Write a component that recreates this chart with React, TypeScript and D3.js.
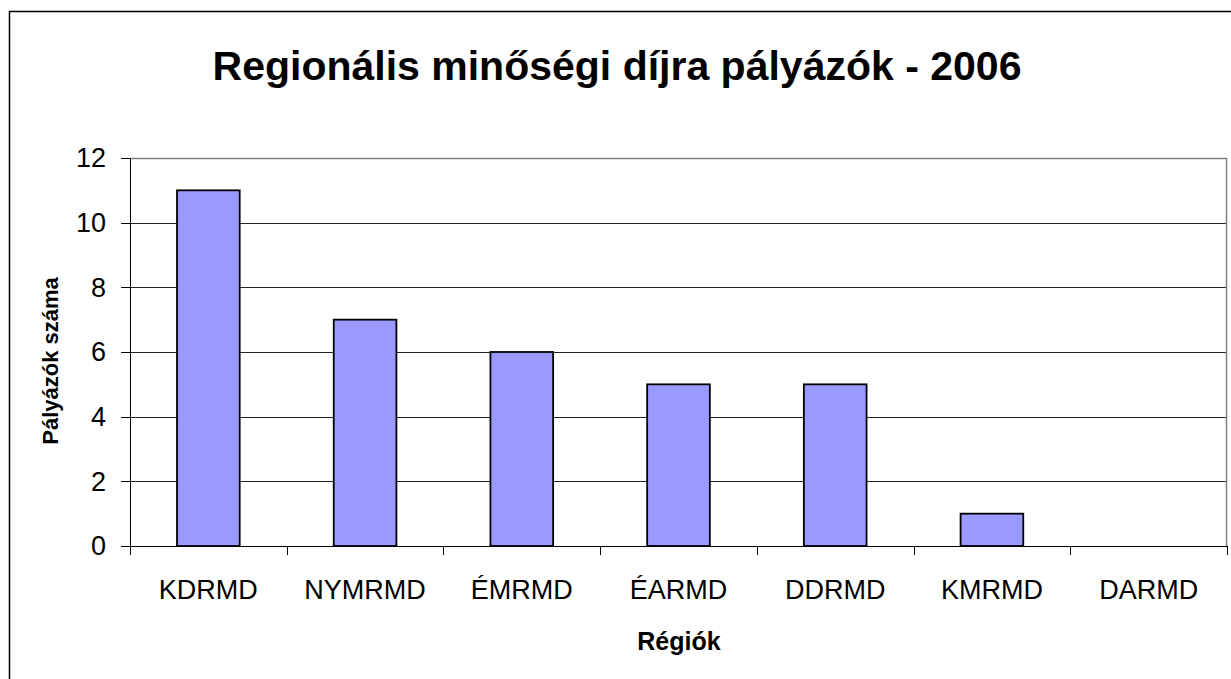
import * as d3 from 'd3';

const categories = ['KDRMD', 'NYMRMD', 'ÉMRMD', 'ÉARMD', 'DDRMD', 'KMRMD', 'DARMD'];
const applicants = [11, 7, 6, 5, 5, 1, 0];
const yTicks = [0, 2, 4, 6, 8, 10, 12];

const TITLE = 'Regionális minőségi díjra pályázók - 2006';
const X_TITLE = 'Régiók';
const Y_TITLE = 'Pályázók száma';

const WIDTH = 1231;
const HEIGHT = 679;
const plot = { left: 130, top: 158, right: 1227, bottom: 546 };
const FONT = 'Liberation Sans, Arial, sans-serif';

export default function App() {
  // bars take 40% of each category slot, centred in it
  const x = d3
    .scaleBand<string>()
    .domain(categories)
    .range([plot.left, plot.right])
    .paddingInner(0.6)
    .paddingOuter(0.3);
  const slot = d3
    .scaleBand<string>()
    .domain(categories)
    .range([plot.left, plot.right]);
  const y = d3.scaleLinear().domain([0, 12]).range([plot.bottom, plot.top]);
  const crisp = (v: number) => Math.round(v) + 0.5;

  return (
    <svg
      width={WIDTH}
      height={HEIGHT}
      style={{ position: 'fixed', left: 0, top: 0, background: '#fff' }}
      fontFamily={FONT}
    >
      <rect x={9.5} y={11.5} width={WIDTH + 20} height={HEIGHT + 20} fill="#fff" stroke="#000" strokeWidth={1.5} />

      <text x={617} y={80} textAnchor="middle" fontSize={41} fontWeight="bold">
        {TITLE}
      </text>

      {/* gridlines */}
      {yTicks.slice(1, -1).map((t) => (
        <line key={t} x1={plot.left} x2={plot.right} y1={crisp(y(t))} y2={crisp(y(t))} stroke="#222" strokeWidth={1} />
      ))}
      {/* plot frame top / right */}
      <line x1={plot.left} x2={plot.right} y1={plot.top + 0.5} y2={plot.top + 0.5} stroke="#808080" strokeWidth={1.5} />
      <line x1={plot.right - 0.5} x2={plot.right - 0.5} y1={plot.top} y2={plot.bottom} stroke="#808080" strokeWidth={1.5} />

      {/* bars */}
      {categories.map((c, i) =>
        applicants[i] > 0 ? (
          <rect
            key={c}
            x={x(c)}
            y={y(applicants[i])}
            width={x.bandwidth()}
            height={y(0) - y(applicants[i])}
            fill="#9999FF"
            stroke="#000"
            strokeWidth={1.8}
          />
        ) : null,
      )}

      {/* y axis */}
      <line x1={plot.left + 0.5} x2={plot.left + 0.5} y1={plot.top} y2={plot.bottom + 8} stroke="#000" strokeWidth={1} />
      {yTicks.map((t) => (
        <g key={t}>
          <line x1={plot.left - 9} x2={plot.left} y1={crisp(y(t))} y2={crisp(y(t))} stroke="#000" />
          <text x={106} y={y(t)} dy="0.35em" textAnchor="end" fontSize={27}>
            {t}
          </text>
        </g>
      ))}

      {/* x axis */}
      <line x1={plot.left} x2={plot.right} y1={plot.bottom + 0.5} y2={plot.bottom + 0.5} stroke="#000" strokeWidth={1} />
      {[...categories.map((c) => slot(c)!), plot.right].map((bx, i) => (
        <line key={i} x1={crisp(bx)} x2={crisp(bx)} y1={plot.bottom} y2={plot.bottom + 9} stroke="#000" />
      ))}
      {categories.map((c) => (
        <text key={c} x={slot(c)! + slot.bandwidth() / 2} y={599} textAnchor="middle" fontSize={27}>
          {c}
        </text>
      ))}

      <text x={679} y={650} textAnchor="middle" fontSize={25} fontWeight="bold">
        {X_TITLE}
      </text>
      <text transform="translate(58, 361) rotate(-90)" textAnchor="middle" fontSize={22} fontWeight="bold">
        {Y_TITLE}
      </text>
    </svg>
  );
}
